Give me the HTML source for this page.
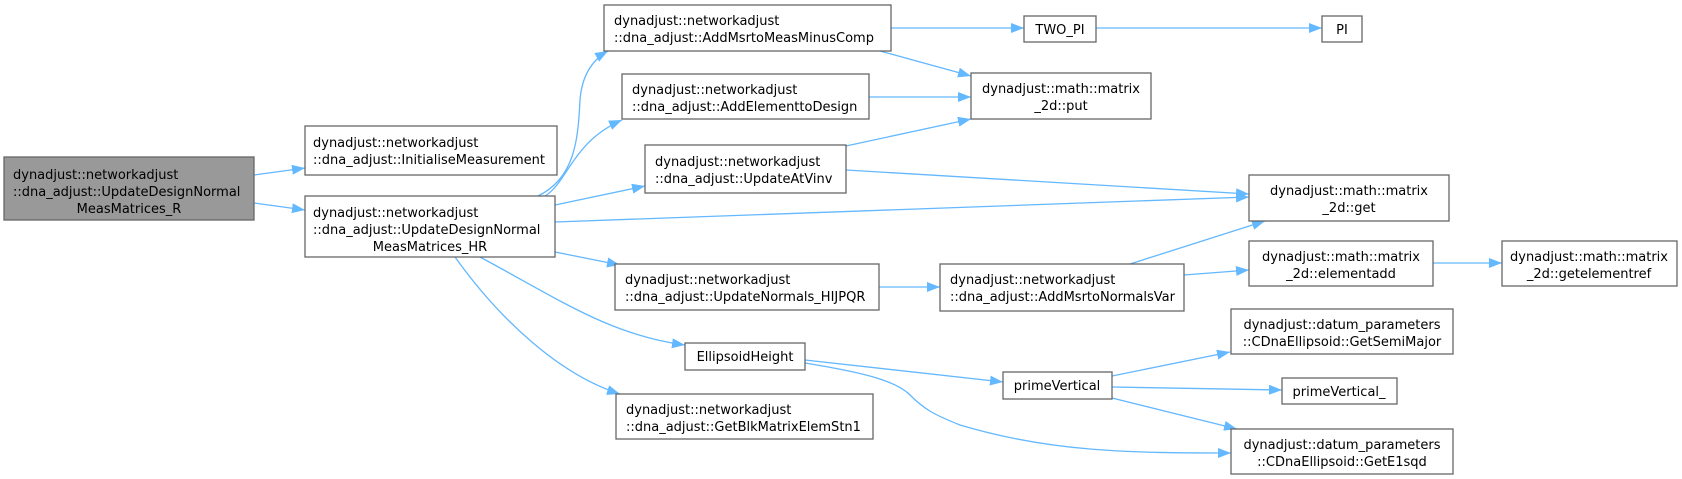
<!DOCTYPE html>
<html><head><meta charset="utf-8"><style>
html,body{margin:0;padding:0;background:#fff;}
svg{display:block;}
text{font-family:"DejaVu Sans","Liberation Sans",sans-serif;font-size:13px;fill:#000;}
.b{fill:#fff;stroke:#666;stroke-width:1.3;}
.e{fill:none;stroke:#63b8ff;stroke-width:1.3;}
</style></head><body>
<svg width="1682" height="479" viewBox="0 0 1682 479" xmlns="http://www.w3.org/2000/svg">
<defs><marker id="a" markerUnits="userSpaceOnUse" markerWidth="14" markerHeight="10" refX="13" refY="5" orient="auto"><path d="M0,0 L13,5 L0,10 z" fill="#63b8ff"/></marker></defs>
<g class="e" marker-end="url(#a)">
<path d="M254,175 L305,168"/>
<path d="M254,203 L305,210"/>
<path d="M538,196 C575,178 578,140 580,100 C582,75 592,60 608,51"/>
<path d="M545,196 C568,182 572,142 622,120"/>
<path d="M555,205 L645,186"/>
<path d="M555,222 L1249,197"/>
<path d="M555,252 L620,265"/>
<path d="M480,257 C560,300 610,335 685,345"/>
<path d="M455,257 C500,320 560,375 620,394"/>
<path d="M891,28 L1024,28"/>
<path d="M1096,28 L1322,28"/>
<path d="M880,51 L971,76"/>
<path d="M869,97 L971,97"/>
<path d="M846,146 L971,119"/>
<path d="M846,170 L1249,194"/>
<path d="M879,287 L940,287"/>
<path d="M1130,264 L1265,221"/>
<path d="M1184,275 L1249,270"/>
<path d="M1433,263 L1502,263"/>
<path d="M805,360 L1003,382"/>
<path d="M805,363 C860,372 895,380 910,395 C925,410 935,415 960,425 C1050,452 1130,453 1231,453"/>
<path d="M1112,376 L1230,352"/>
<path d="M1112,387 L1282,390"/>
<path d="M1112,398 L1237,429"/>
</g>
<rect x="4" y="157" width="250" height="63" fill="#999" stroke="#666" stroke-width="1.3"/>
<text x="13" y="179">dynadjust::networkadjust</text>
<text x="13" y="196">::dna_adjust::UpdateDesignNormal</text>
<text x="129" y="213" text-anchor="middle">MeasMatrices_R</text>

<rect class="b" x="305" y="126" width="252" height="49"/>
<text x="313" y="147">dynadjust::networkadjust</text>
<text x="313" y="164">::dna_adjust::InitialiseMeasurement</text>

<rect class="b" x="305" y="196" width="250" height="61"/>
<text x="313" y="217">dynadjust::networkadjust</text>
<text x="313" y="234">::dna_adjust::UpdateDesignNormal</text>
<text x="430" y="251" text-anchor="middle">MeasMatrices_HR</text>

<rect class="b" x="604" y="5" width="287" height="46"/>
<text x="614" y="25">dynadjust::networkadjust</text>
<text x="614" y="42">::dna_adjust::AddMsrtoMeasMinusComp</text>

<rect class="b" x="622" y="74" width="247" height="45"/>
<text x="632" y="94">dynadjust::networkadjust</text>
<text x="632" y="111">::dna_adjust::AddElementtoDesign</text>

<rect class="b" x="645" y="145" width="201" height="48"/>
<text x="655" y="166">dynadjust::networkadjust</text>
<text x="655" y="183">::dna_adjust::UpdateAtVinv</text>

<rect class="b" x="615" y="264" width="264" height="46"/>
<text x="625" y="284">dynadjust::networkadjust</text>
<text x="625" y="301">::dna_adjust::UpdateNormals_HIJPQR</text>

<rect class="b" x="685" y="343" width="120" height="27"/>
<text x="745" y="361" text-anchor="middle">EllipsoidHeight</text>

<rect class="b" x="616" y="394" width="257" height="45"/>
<text x="626" y="414">dynadjust::networkadjust</text>
<text x="626" y="431">::dna_adjust::GetBlkMatrixElemStn1</text>

<rect class="b" x="1024" y="16" width="72" height="26"/>
<text x="1060" y="34" text-anchor="middle">TWO_PI</text>

<rect class="b" x="1322" y="16" width="40" height="26"/>
<text x="1342" y="34" text-anchor="middle">PI</text>

<rect class="b" x="971" y="73" width="180" height="46"/>
<text x="1061" y="93" text-anchor="middle">dynadjust::math::matrix</text>
<text x="1061" y="110" text-anchor="middle">_2d::put</text>

<rect class="b" x="1249" y="175" width="200" height="46"/>
<text x="1349" y="195" text-anchor="middle">dynadjust::math::matrix</text>
<text x="1349" y="212" text-anchor="middle">_2d::get</text>

<rect class="b" x="940" y="264" width="244" height="47"/>
<text x="950" y="284">dynadjust::networkadjust</text>
<text x="950" y="301">::dna_adjust::AddMsrtoNormalsVar</text>

<rect class="b" x="1249" y="241" width="184" height="45"/>
<text x="1341" y="261" text-anchor="middle">dynadjust::math::matrix</text>
<text x="1341" y="278" text-anchor="middle">_2d::elementadd</text>

<rect class="b" x="1502" y="241" width="175" height="45"/>
<text x="1589" y="261" text-anchor="middle">dynadjust::math::matrix</text>
<text x="1589" y="278" text-anchor="middle">_2d::getelementref</text>

<rect class="b" x="1231" y="309" width="222" height="45"/>
<text x="1342" y="329" text-anchor="middle">dynadjust::datum_parameters</text>
<text x="1342" y="346" text-anchor="middle">::CDnaEllipsoid::GetSemiMajor</text>

<rect class="b" x="1003" y="372" width="109" height="27"/>
<text x="1057" y="390" text-anchor="middle">primeVertical</text>

<rect class="b" x="1282" y="378" width="115" height="26"/>
<text x="1339" y="396" text-anchor="middle">primeVertical_</text>

<rect class="b" x="1231" y="429" width="222" height="45"/>
<text x="1342" y="449" text-anchor="middle">dynadjust::datum_parameters</text>
<text x="1342" y="466" text-anchor="middle">::CDnaEllipsoid::GetE1sqd</text>
</svg>
</body></html>
